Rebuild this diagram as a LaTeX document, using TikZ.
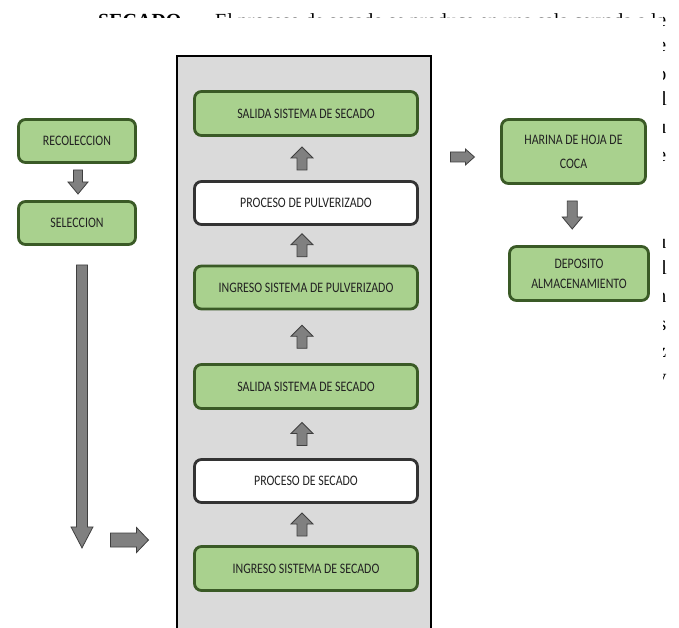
\documentclass[tikz,border=0pt]{standalone}
\usepackage{fontspec}
\usetikzlibrary{calc}
\newfontfamily\boxfont[FakeStretch=0.82]{Carlito}
\newfontfamily\bgserif{Liberation Serif}
\definecolor{boxgreen}{HTML}{A9D18E}
\definecolor{boxedge}{HTML}{3A5A26}
\definecolor{whiteedge}{HTML}{333333}
\definecolor{panelgray}{HTML}{DADADA}
\definecolor{arrowfill}{HTML}{808080}
\definecolor{arrowedge}{HTML}{3F3F3F}
\definecolor{boxtext}{HTML}{222222}
\tikzset{
  greenbox/.style={draw=boxedge, fill=boxgreen, line width=2.8pt, rounded corners=7pt,
    inner sep=0pt, font=\boxfont\fontsize{14.5}{17}\selectfont, text=boxtext, align=center},
  whitebox/.style={greenbox, draw=whiteedge, fill=white},
  innerbox/.style={minimum width=223pt, minimum height=44pt},
  sidebox/.style={minimum width=117pt, minimum height=43pt},
  arrowst/.style={draw=arrowedge, fill=arrowfill, line width=0.8pt, line join=miter},
  pics/blockarrow/.style n args={4}{code={
    \draw[arrowst] ({-#1/2},{-#2/2}) -- ({#1/2-#4},{-#2/2}) -- ({#1/2-#4},{-#3/2})
      -- ({#1/2},0) -- ({#1/2-#4},{#3/2}) -- ({#1/2-#4},{#2/2}) -- ({-#1/2},{#2/2}) -- cycle;
  }},
  bgtext/.style={font=\bgserif\fontsize{20}{24}\selectfont, inner sep=0pt, text=black}
}
\begin{document}
\begin{tikzpicture}[x=1pt,y=-1pt]
\useasboundingbox[fill=white] (0,0) rectangle (679,628);

% background text fragments (partly hidden)
\begin{scope}
  \clip (0,0) rectangle (679,17.5);
  \node[bgtext, anchor=base west] (toptext) at (98,27.5)
    {\textbf{SECADO.-}\hspace{22pt}El proceso de secado se produce en una sala cerrada a la};
\end{scope}
\begin{scope}
  \clip (663,0) rectangle (679,628);
  \node[bgtext, anchor=base east] (r1) at (666.5,27) {e};
  \node[bgtext, anchor=base east] (r2) at (666.5,52) {e};
  \node[bgtext, anchor=base east] (r3) at (666.5,81) {o};
  \node[bgtext, anchor=base east] (r4) at (667,106) {l};
  \node[bgtext, anchor=base east] (r5) at (666.5,134) {u};
  \node[bgtext, anchor=base east] (r6) at (666.5,162) {e};
  \node[bgtext, anchor=base east] (r7) at (666.5,248) {u};
  \node[bgtext, anchor=base east] (r8) at (667,274) {l};
  \node[bgtext, anchor=base east] (r9) at (666.5,302) {n};
  \node[bgtext, anchor=base east] (r10) at (666.5,330) {s};
  \node[bgtext, anchor=base east] (r11) at (666.5,357) {z};
  \node[bgtext, anchor=base east] (r12) at (666.5,383) {v};
\end{scope}

% panel
\node[draw=black, fill=panelgray, line width=1.6pt, minimum width=254pt, minimum height=620pt,
  anchor=north west, inner sep=0pt] (panel) at (176,55) {};

% left boxes
\node[greenbox, sidebox] (rec) at (77,141) {RECOLECCION};
\node[greenbox, sidebox] (sel) at (77,223) {SELECCION};

% inner boxes
\node[greenbox, innerbox] (b6) at (306,113.5) {SALIDA SISTEMA DE SECADO};
\node[whitebox, innerbox, minimum height=43pt] (b5) at (306,203) {PROCESO DE PULVERIZADO};
\node[greenbox, innerbox, minimum height=43pt] (b4) at (306,287.5) {INGRESO SISTEMA DE PULVERIZADO};
\node[greenbox, innerbox] (b3) at (306,386.5) {SALIDA SISTEMA DE SECADO};
\node[whitebox, innerbox, minimum height=43pt] (b2) at (306,481) {PROCESO DE SECADO};
\node[greenbox, innerbox] (b1) at (306,568.5) {INGRESO SISTEMA DE SECADO};

% right boxes
\node[greenbox, minimum width=144pt, minimum height=64pt, font=\boxfont\fontsize{14.5}{24}\selectfont]
  (har) at (573.5,151.5) {HARINA DE HOJA DE\\COCA};
\node[greenbox, minimum width=139pt, minimum height=54pt, font=\boxfont\fontsize{14.5}{20}\selectfont]
  (dep) at (579,273.5) {DEPOSITO\\ALMACENAMIENTO};

% arrows
\pic[rotate=-90] at ($(rec.south)!0.5!(sel.north)+(1,0)$) {blockarrow={24}{9}{20}{12}};
\pic[rotate=-90] at ($(sel.south)+(5,160.5)$) {blockarrow={283}{11}{22}{21}};
\pic at (129.5,540) {blockarrow={38}{14}{25}{12}};
\pic[rotate=90] at ($(b1.north)!0.5!(b2.south)+(-4,0)$) {blockarrow={23}{10}{22}{11}};
\pic[rotate=90] at ($(b2.north)!0.5!(b3.south)+(-4,0)$) {blockarrow={23}{10}{22}{11}};
\pic[rotate=90] at ($(b3.north)!0.5!(b4.south)+(-4,0)$) {blockarrow={23}{10}{22}{11}};
\pic[rotate=90] at ($(b4.north)!0.5!(b5.south)+(-4,0)$) {blockarrow={23}{10}{22}{11}};
\pic[rotate=90] at ($(b5.north)!0.5!(b6.south)+(-4,0)$) {blockarrow={23}{10}{22}{11}};
\pic at ($(panel.east|-har.west)!0.45!(har.west)+(0,5.5)$) {blockarrow={24}{10}{16}{9}};
\pic[rotate=-90] at ($(har.south)!0.5!(dep.north)+(-4,0)$) {blockarrow={28}{10}{20}{12}};
\end{tikzpicture}
\end{document}
